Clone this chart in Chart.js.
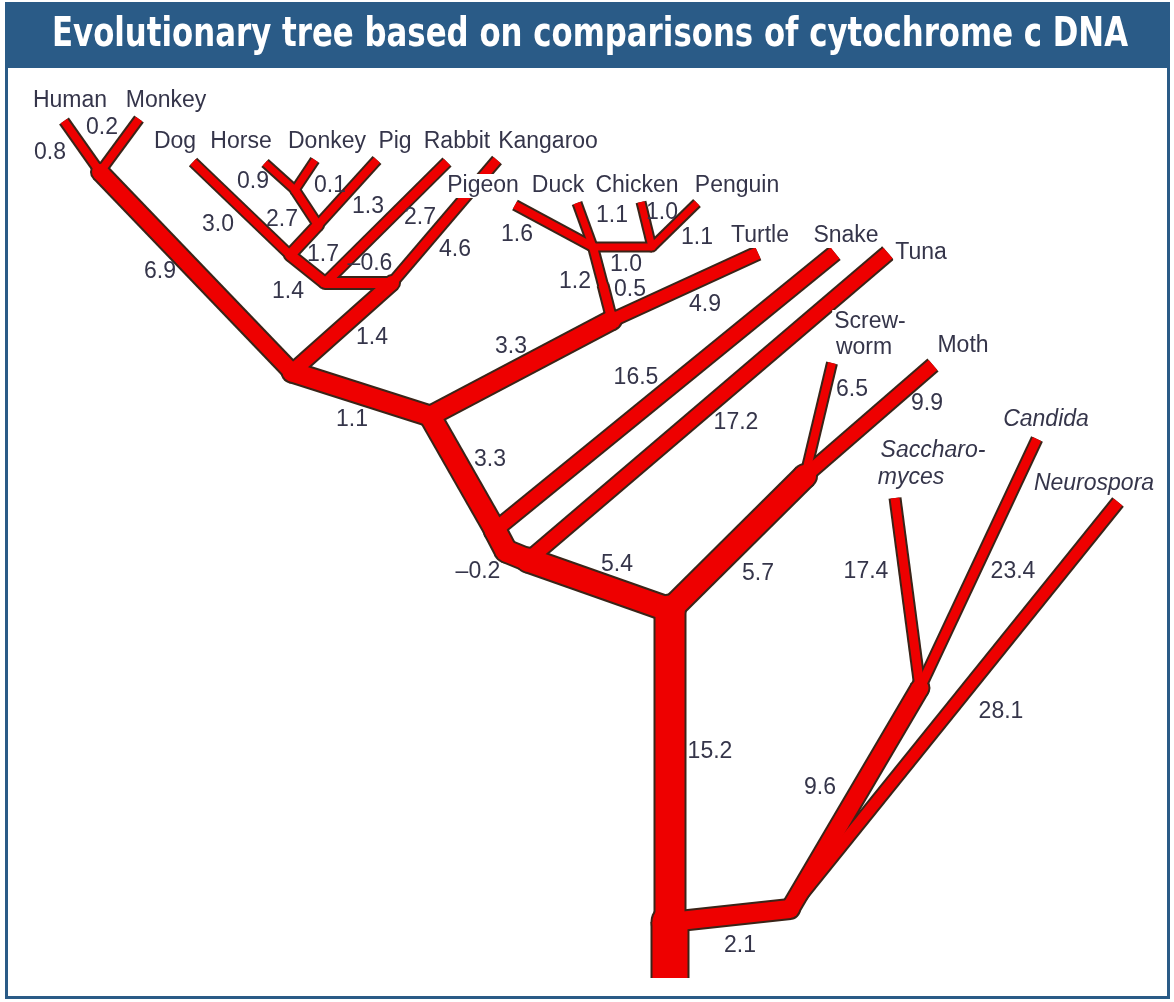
<!DOCTYPE html>
<html>
<head>
<meta charset="utf-8">
<title>Evolutionary tree based on comparisons of cytochrome c DNA</title>
<script src="https://cdn.jsdelivr.net/npm/chart.js@4/dist/chart.umd.min.js"></script>
<style>
    html, body { margin: 0; padding: 0; background: #ffffff; }
    #wrap { width: 1174px; height: 1002px; }
</style>
</head>
<body>
<div id="wrap"><canvas id="tree" width="1174" height="1002"></canvas></div>
<script>
// Tree nodes (units = the figure's own 1174 x 1002 grid)
const nodeIds = [
    "root", "trunkFork", "trunkTop",
    "fungi", "yeasts", "saccharomyces", "candida", "neurospora",
    "insects", "screwworm", "moth",
    "fishSplit", "tetrapods", "snakeFork", "tuna", "snake",
    "amniotes", "mammals", "reptiles", "turtle",
    "birdStem", "birds", "galliform", "pigeon", "duck", "chicken", "penguin",
    "primates", "human", "monkey",
    "marsupialSplit", "kangaroo", "placentals", "rabbit",
    "carnUng", "dog", "ungulates", "equids", "pig", "horse", "donkey"
];
const nodeX = [
    670, 670, 670,
    790, 920, 895, 1037, 1118,
    805, 832, 933,
    528, 506, 495, 888, 835,
    430, 292, 612, 758,
    603, 593, 652, 515, 577, 641, 697,
    100, 64, 139,
    392, 497, 325, 447,
    290, 193, 318, 295, 377, 265, 315
];
const nodeY = [
    978, 922, 610,
    909, 688, 498, 439, 502,
    476, 363, 365,
    560, 551, 530, 253, 253,
    416, 372, 320, 253,
    285, 247, 247, 205, 203, 202, 203,
    172, 121, 119,
    283, 160, 283, 162,
    255, 162, 225, 190, 160, 163, 160
];

// Branches (parent -> child) and the distance printed beside each
const branchFrom = [
    "root", "trunkFork", "trunkFork",
    "fungi", "fungi", "yeasts", "yeasts",
    "trunkTop", "insects", "insects",
    "trunkTop", "fishSplit", "fishSplit", "tetrapods", "snakeFork", "snakeFork",
    "amniotes", "amniotes", "reptiles", "reptiles", "birdStem",
    "birds", "birds", "birds", "galliform", "galliform",
    "mammals", "primates", "primates",
    "mammals", "marsupialSplit", "marsupialSplit", "placentals", "placentals",
    "carnUng", "carnUng", "ungulates", "ungulates", "equids", "equids"
];
const branchTo = [
    "trunkFork", "trunkTop", "fungi",
    "yeasts", "neurospora", "saccharomyces", "candida",
    "insects", "screwworm", "moth",
    "fishSplit", "tetrapods", "tuna", "snakeFork", "amniotes", "snake",
    "mammals", "reptiles", "turtle", "birdStem", "birds",
    "galliform", "pigeon", "duck", "chicken", "penguin",
    "primates", "human", "monkey",
    "marsupialSplit", "kangaroo", "placentals", "rabbit", "carnUng",
    "dog", "ungulates", "equids", "pig", "horse", "donkey"
];
const branchValues = [
    "", "15.2", "2.1",
    "9.6", "28.1", "17.4", "23.4",
    "5.7", "6.5", "9.9",
    "5.4", "\u20130.2", "17.2", "", "3.3", "16.5",
    "1.1", "3.3", "4.9", "0.5", "1.2",
    "1.0", "1.6", "1.1", "1.0", "1.1",
    "6.9", "0.8", "0.2",
    "1.4", "4.6", "\u20130.6", "2.7", "1.4",
    "3.0", "1.7", "2.7", "1.3", "0.9", "0.1"
];

// Species names at the tips
const tipNames = [
    "Human", "Monkey", "Dog", "Horse", "Donkey", "Pig", "Rabbit", "Kangaroo",
    "Pigeon", "Duck", "Chicken", "Penguin", "Turtle", "Snake", "Tuna",
    "Screw-", "worm", "Moth", "Saccharo-", "myces", "Candida", "Neurospora"
];
const tipItalic = [
    false, false, false, false, false, false, false, false,
    false, false, false, false, false, false, false,
    false, false, false, true, true, true, true
];

// ---- layout and style (kept apart from the values) ----
const branchWidths = [
    35, 29, 18,
    17, 11, 9, 9,
    22, 8, 13,
    23, 21, 14, 21, 20, 14,
    19, 18, 12, 9, 8,
    7, 8, 7, 7, 7,
    16, 8, 8,
    14, 9, 10, 9, 10,
    8, 10, 8, 8, 7, 7
];
const valueX = [
    0, 710, 740,
    820, 1001, 866, 1013,
    758, 852, 927,
    617, 478, 736, 0, 490, 636,
    352, 511, 705, 630, 575,
    626, 517, 612, 662, 697,
    160, 50, 102,
    372, 455, 370, 420, 288,
    218, 323, 282, 368, 253, 330
];
const valueY = [
    0, 752, 946,
    788, 712, 572, 572,
    574, 390, 404,
    565, 572, 423, 0, 460, 378,
    420, 347, 305, 290, 282,
    265, 235, 216, 213, 238,
    272, 153, 128,
    338, 250, 264, 218, 292,
    225, 255, 220, 207, 182, 186
];
const tipX = [70, 166, 175, 241, 327, 395, 457, 548,
    483, 558, 637, 737, 760, 846, 921,
    870, 864, 963, 933, 911, 1046, 1094];
const tipY = [101, 101, 142, 142, 142, 142, 142, 142,
    186, 186, 186, 186, 236, 236, 253,
    322, 348, 346, 451, 478, 420, 484];

const RED = "#ee0000";
const EDGE = "#3a2418";
const TEXT = "#35354a";
const FRAME = "#2a5b87";
const RIM = 4;

// Look up a node's point by id
function pointOf(id) {
    const i = nodeIds.indexOf(id);
    return { x: nodeX[i], y: nodeY[i] };
}

// Build one dataset per branch, once for the dark rim and once for the red body
const datasets = [];
branchFrom.forEach((from, i) => {
    const seg = [pointOf(from), pointOf(branchTo[i])];
    datasets.push({
        data: seg, showLine: true, pointRadius: 0,
        borderColor: EDGE, borderWidth: branchWidths[i] + RIM,
        borderCapStyle: "butt", order: 4
    });
    datasets.push({
        data: seg, showLine: true, pointRadius: 0,
        borderColor: RED, borderWidth: branchWidths[i],
        borderCapStyle: "butt", order: 2
    });
});

// Round joints at inner nodes so the branches merge cleanly
const jointPoints = [];
const jointRadii = [];
nodeIds.forEach((id) => {
    const inIdx = branchTo.indexOf(id);
    const outW = branchFrom.map((f, i) => (f === id ? branchWidths[i] : 0)).filter((w) => w > 0);
    if (inIdx < 0 || outW.length === 0) return;
    jointPoints.push(pointOf(id));
    // a plain bend (one child) only needs the narrower of its two widths
    const w = outW.length === 1 ? Math.min(branchWidths[inIdx], outW[0]) : branchWidths[inIdx];
    jointRadii.push(w / 2);
});
datasets.push({
    data: jointPoints, showLine: false,
    pointRadius: jointRadii.map((r) => r + RIM / 2), pointBorderWidth: 0,
    pointBackgroundColor: EDGE, order: 3
});
datasets.push({
    data: jointPoints, showLine: false,
    pointRadius: jointRadii, pointBorderWidth: 0,
    pointBackgroundColor: RED, order: 1
});

// Frame and blue title band
const framePlugin = {
    id: "frame",
    beforeDraw(chart) {
        const ctx = chart.ctx;
        ctx.save();
        ctx.fillStyle = "#ffffff";
        ctx.fillRect(0, 0, chart.width, chart.height);
        ctx.strokeStyle = FRAME;
        ctx.lineWidth = 3;
        ctx.strokeRect(6.5, 3.5, 1162, 994);
        ctx.fillStyle = FRAME;
        ctx.fillRect(5, 2, 1165, 66);

        const title = "Evolutionary tree based on comparisons of cytochrome c DNA";
        ctx.font = "bold 40px 'DejaVu Sans Condensed', 'DejaVu Sans', sans-serif";
        const w = ctx.measureText(title).width;
        ctx.translate(590, 36);
        ctx.scale(1076 / w, 1);
        ctx.fillStyle = "#ffffff";
        ctx.textAlign = "center";
        ctx.textBaseline = "middle";
        ctx.fillText(title, 0, 0);
        ctx.restore();
    }
};

// Branch distances and species names, placed through the chart's scales
const textPlugin = {
    id: "treeText",
    afterDatasetsDraw(chart) {
        const ctx = chart.ctx;
        const xs = chart.scales.x;
        const ys = chart.scales.y;
        ctx.save();
        ctx.textAlign = "center";
        ctx.textBaseline = "middle";

        ctx.font = "23px 'Liberation Sans', Arial, sans-serif";
        ctx.fillStyle = TEXT;
        branchValues.forEach((v, i) => {
            if (!v) return;
            ctx.fillText(v, xs.getPixelForValue(valueX[i]), ys.getPixelForValue(valueY[i]));
        });

        tipNames.forEach((name, i) => {
            ctx.font = (tipItalic[i] ? "italic " : "") + "23px 'Liberation Sans', Arial, sans-serif";
            const px = xs.getPixelForValue(tipX[i]);
            const py = ys.getPixelForValue(tipY[i]);
            const w = ctx.measureText(name).width;
            ctx.fillStyle = "#ffffff";
            ctx.fillRect(px - w / 2 - 2, py - 12, w + 4, 24);
            ctx.fillStyle = TEXT;
            ctx.fillText(name, px, py);
        });
        ctx.restore();
    }
};

const treeCtx = document.getElementById("tree").getContext("2d");
new Chart(treeCtx, {
    type: "scatter",
    data: { datasets: datasets },
    options: {
        responsive: false,
        animation: false,
        devicePixelRatio: 1,
        events: [],
        layout: { padding: 0, autoPadding: false },
        plugins: {
            legend: { display: false },
            tooltip: { enabled: false },
            title: { display: false }
        },
        scales: {
            x: { type: "linear", min: 0, max: 1174, display: false },
            y: { type: "linear", min: 0, max: 1002, reverse: true, display: false }
        }
    },
    plugins: [framePlugin, textPlugin]
});
</script>
</body>
</html>
